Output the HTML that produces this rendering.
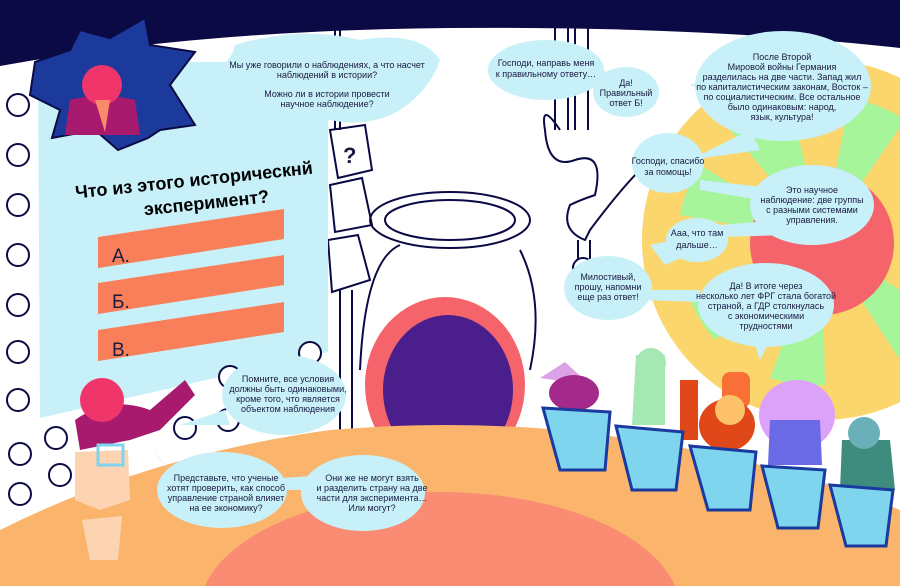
<!DOCTYPE html>
<html><head><meta charset="utf-8"><style>
html,body{margin:0;padding:0;width:900px;height:586px;overflow:hidden;background:#fff}
svg{display:block}
text{font-family:"Liberation Sans",sans-serif;fill:#1a1a40}
.t{text-anchor:middle}
</style></head><body>
<svg width="900" height="586" viewBox="0 0 900 586" xmlns="http://www.w3.org/2000/svg" font-size="9">
<rect width="900" height="586" fill="#0b0a44"/>
<path d="M0,66 Q200,30 450,28 Q700,26 900,48 L900,586 L0,586 Z" fill="#fff"/>
<!-- wheel -->
<circle cx="822" cy="240" r="180" fill="#fbd66c"/>
<g fill="#a6f59a">
<path d="M822,240 L730,130 A145,145 0 0 1 790,100 Z"/>
<path d="M822,240 L850,98 A145,145 0 0 1 905,120 Z"/>
<path d="M822,240 L680,215 A145,145 0 0 1 700,165 Z"/>
<path d="M822,240 L715,340 A145,145 0 0 1 690,300 Z"/>
<path d="M822,240 L825,385 A145,145 0 0 1 770,378 Z"/>
<path d="M822,240 L900,360 L900,290 Z"/>
</g>
<circle cx="822" cy="243" r="72" fill="#f4646a"/>
<!-- lamp outline -->
<g fill="none" stroke="#0b0a44" stroke-width="2">
<path d="M555,0 L555,130 M568,0 L568,130 M575,0 L575,130 M588,0 L588,130"/>
<path d="M560,130 Q540,100 545,130 Q548,170 575,160 Q605,150 595,195 Q580,200 570,205 Q560,230 585,240 L590,230 Q620,190 640,170"/>
<path d="M578,240 L578,260 M590,240 L590,260"/><circle cx="583" cy="268" r="10"/>
<path d="M340,0 L340,130 M335,0 L335,130 M340,290 L340,430 M352,290 L352,430"/>
<ellipse cx="450" cy="220" rx="80" ry="28"/><ellipse cx="450" cy="220" rx="65" ry="20"/>
<path d="M360,370 Q365,260 400,245 M520,250 Q545,300 530,370"/>
<path d="M330,130 L365,125 L372,170 L338,178 Z M330,185 L362,178 L372,225 L335,232 Z M328,240 L358,235 L370,280 L332,292 Z"/>
</g>
<text x="343" y="163" style="font-size:22px;font-weight:bold">?</text>
<!-- door -->
<ellipse cx="445" cy="385" rx="80" ry="88" fill="#f4646a"/>
<ellipse cx="448" cy="390" rx="65" ry="75" fill="#4a1f8c"/>
<!-- floor -->
<path d="M0,530 Q150,455 330,430 Q450,420 560,430 Q750,450 900,510 L900,586 L0,586 Z" fill="#fbb46c"/>
<ellipse cx="440" cy="610" rx="240" ry="118" fill="#fb8c74"/>
<!-- notebook -->
<path d="M38,62 L328,62 L328,352 L40,418 Z" fill="#c8f0f8"/>
<g fill="#fff" stroke="#0b0a44" stroke-width="2">
<circle cx="18" cy="105" r="11"/><circle cx="18" cy="155" r="11"/><circle cx="18" cy="205" r="11"/><circle cx="18" cy="255" r="11"/><circle cx="18" cy="305" r="11"/><circle cx="18" cy="352" r="11"/><circle cx="18" cy="400" r="11"/><circle cx="20" cy="454" r="11"/><circle cx="20" cy="494" r="11"/>
<circle cx="56" cy="438" r="11"/><circle cx="60" cy="475" r="11"/><circle cx="230" cy="377" r="11"/><circle cx="185" cy="428" r="11"/><circle cx="228" cy="420" r="11"/><circle cx="310" cy="353" r="11"/>
</g>
<path d="M98,237 L284,209 L284,239 L98,268 Z M98,283 L284,255 L284,285 L98,314 Z M98,330 L284,302 L284,332 L98,361 Z" fill="#f97f5a"/>
<text x="112" y="262" style="font-size:19px">А.</text>
<text x="112" y="308" style="font-size:19px">Б.</text>
<text x="112" y="356" style="font-size:19px">В.</text>
<g transform="rotate(-6 195 190)"><text x="195" y="186" class="t" style="font-size:18px;font-weight:bold;fill:#000">Что из этого историческнй</text>
<text x="205" y="210" class="t" style="font-size:18px;font-weight:bold;fill:#000">эксперимент?</text></g>
<!-- starburst -->
<path d="M35,62 L70,50 L80,30 L110,38 L145,18 L150,45 L195,52 L170,85 L195,125 L160,130 L148,138 L118,150 L95,130 L52,138 L60,110 L30,95 Z" fill="#1c3a9c" stroke="#0b0a44" stroke-width="2"/>
<path d="M70,100 Q100,92 135,100 L140,135 L65,135 Z" fill="#a81a6e"/>
<circle cx="102" cy="85" r="20" fill="#f0356a"/>
<path d="M95,100 L110,100 L105,132 Z" fill="#f98a6a"/>
<!-- bubble top -->
<path d="M235,45 Q300,25 360,40 Q420,30 440,60 Q430,90 400,110 Q370,128 330,120 Q290,125 260,115 Q230,100 235,75 Q200,90 190,80 Q230,70 235,45Z" fill="#c8f0f8"/>
<text x="327" y="68" class="t">Мы уже говорили о наблюдениях, а что насчет</text>
<text x="327" y="78" class="t">наблюдений в истории?</text>
<text x="327" y="97" class="t">Можно ли в истории провести</text>
<text x="327" y="107" class="t">научное наблюдение?</text>
<!-- right bubbles -->
<g fill="#c8f0f8">
<path d="M600,70 L640,80 L660,95 L600,85 Z M690,85 L720,75 L720,95 Z M750,130 L760,150 L690,160 Z M700,180 L790,190 L790,205 L700,190 Z M720,225 L780,220 L790,235 L720,237 Z M650,245 L700,235 L700,250 L665,265 Z M640,290 L700,290 L700,302 L640,300 Z M750,330 L770,340 L760,360 Z"/>
<ellipse cx="546" cy="70" rx="58" ry="30"/>
<ellipse cx="626" cy="92" rx="33" ry="25"/>
<ellipse cx="783" cy="86" rx="88" ry="55"/>
<ellipse cx="668" cy="163" rx="36" ry="30"/>
<ellipse cx="812" cy="205" rx="62" ry="40"/>
<ellipse cx="697" cy="240" rx="31" ry="22"/>
<ellipse cx="608" cy="288" rx="44" ry="32"/>
<ellipse cx="766" cy="305" rx="68" ry="42"/>
<ellipse cx="284" cy="395" rx="62" ry="40"/>
<ellipse cx="222" cy="490" rx="65" ry="38"/>
<ellipse cx="363" cy="493" rx="62" ry="38"/>
<path d="M180,425 L225,410 L230,425 Z M152,450 L170,470 L160,460 Z M280,478 L330,475 L325,490 L280,490 Z"/>
</g>
<g>
<text x="546" y="66" class="t">Господи, направь меня</text><text x="546" y="77" class="t">к правильному ответу…</text>
<text x="626" y="86" class="t">Да!</text><text x="626" y="96" class="t">Правильный</text><text x="626" y="106" class="t">ответ Б!</text>
<text x="782" y="60" class="t">После Второй</text><text x="782" y="70" class="t">Мировой войны Германия</text><text x="782" y="80" class="t">разделилась на две части. Запад жил</text><text x="782" y="90" class="t">по капиталистическим законам, Восток –</text><text x="782" y="100" class="t">по социалистическим. Все остальное</text><text x="782" y="110" class="t">было одинаковым: народ,</text><text x="782" y="120" class="t">язык, культура!</text>
<text x="668" y="164" class="t">Господи, спасибо</text><text x="668" y="175" class="t">за помощь!</text>
<text x="812" y="193" class="t">Это научное</text><text x="812" y="203" class="t">наблюдение: две группы</text><text x="812" y="213" class="t">с разными системами</text><text x="812" y="223" class="t">управления.</text>
<text x="697" y="236" class="t">Ааа, что там</text><text x="697" y="248" class="t">дальше…</text>
<text x="608" y="280" class="t">Милостивый,</text><text x="608" y="290" class="t">прошу, напомни</text><text x="608" y="300" class="t">еще раз ответ!</text>
<text x="766" y="289" class="t">Да! В итоге через</text><text x="766" y="299" class="t">несколько лет ФРГ стала богатой</text><text x="766" y="309" class="t">страной, а ГДР столкнулась</text><text x="766" y="319" class="t">с экономическими</text><text x="766" y="329" class="t">трудностями</text>
<text x="288" y="382" class="t">Помните, все условия</text><text x="288" y="392" class="t">должны быть одинаковыми,</text><text x="288" y="402" class="t">кроме того, что является</text><text x="288" y="412" class="t">объектом наблюдения</text>
<text x="226" y="481" class="t">Представьте, что ученые</text><text x="226" y="491" class="t">хотят проверить, как способ</text><text x="226" y="501" class="t">управление страной влияет</text><text x="226" y="511" class="t">на ее экономику?</text>
<text x="372" y="481" class="t">Они же не могут взять</text><text x="372" y="491" class="t">и разделить страну на две</text><text x="372" y="501" class="t">части для эксперимента…</text><text x="372" y="511" class="t">Или могут?</text>
</g>
<!-- host -->
<path d="M75,420 Q110,395 150,410 L185,380 L195,395 L160,430 L130,440 L80,450 Z" fill="#a81a6e"/>
<circle cx="102" cy="400" r="22" fill="#f0356a"/>
<path d="M75,452 L128,450 L130,500 L100,510 L75,500 Z" fill="#fdd4b2"/>
<path d="M82,520 L122,516 L118,560 L90,560 Z" fill="#fdd4b2"/>
<rect x="98" y="445" width="25" height="20" fill="none" stroke="#7fd4ee" stroke-width="3"/>
<!-- contestants -->
<g>
<path d="M540,378 L565,362 L590,385 Z" fill="#dca2e6"/><ellipse cx="574" cy="393" rx="25" ry="18" fill="#a32a8a"/>
<path d="M636,355 L665,355 L665,425 L632,425 Z" fill="#a6e8b4"/><circle cx="651" cy="363" r="15" fill="#a6e8b4"/>
<rect x="680" y="380" width="18" height="60" fill="#e0481a"/><rect x="722" y="372" width="28" height="36" rx="8" fill="#f97036"/><ellipse cx="727" cy="425" rx="28" ry="26" fill="#e0481a"/><circle cx="730" cy="410" r="15" fill="#fdc26a"/>
<ellipse cx="797" cy="415" rx="38" ry="35" fill="#dca2fa"/><path d="M770,420 L820,420 L822,465 L768,465 Z" fill="#6a6ae6"/>
<path d="M842,440 L890,440 L895,490 L840,490 Z" fill="#3e8c7e"/><circle cx="864" cy="433" r="16" fill="#6ab0b8"/>
</g>
<g fill="#7fd4ee" stroke="#1a3aa0" stroke-width="3">
<path d="M543,408 L610,412 L605,470 L560,470 Z"/>
<path d="M616,426 L683,432 L676,490 L632,490 Z"/>
<path d="M690,446 L756,452 L750,510 L708,510 Z"/>
<path d="M762,466 L825,470 L818,528 L778,528 Z"/>
<path d="M830,485 L893,490 L886,546 L846,546 Z"/>
</g>
</svg>
</body></html>
